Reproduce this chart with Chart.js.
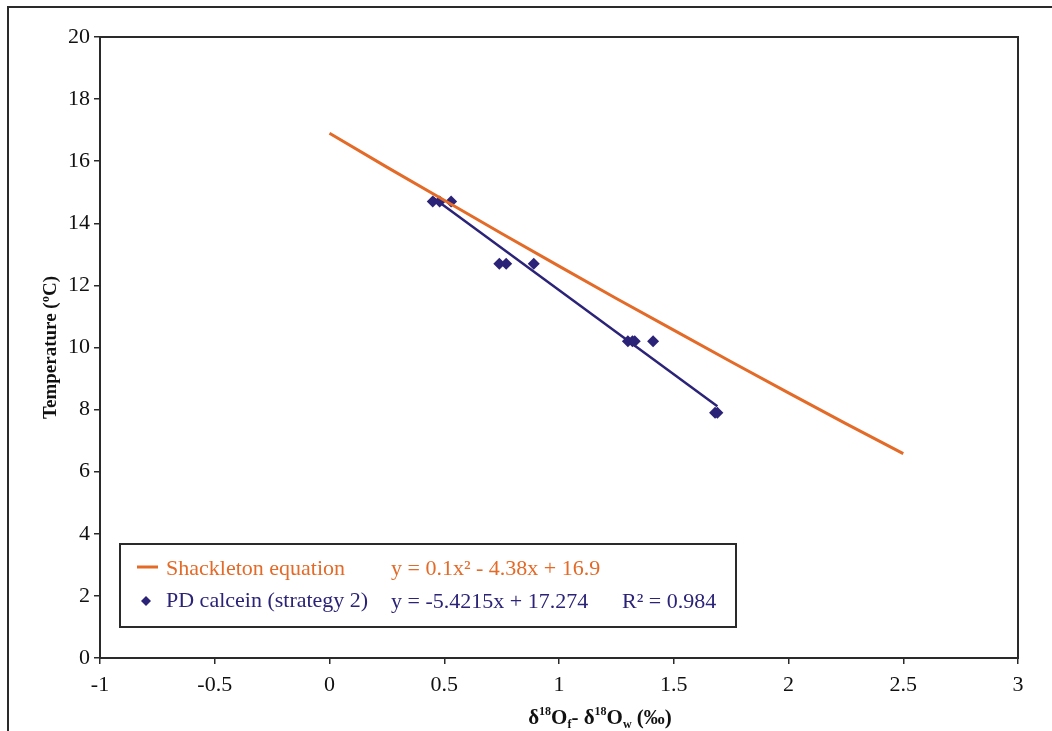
<!DOCTYPE html>
<html>
<head>
<meta charset="utf-8">
<script src="https://cdn.jsdelivr.net/npm/chart.js@4.4.1/dist/chart.umd.min.js"></script>
<style>
  html, body { margin: 0; padding: 0; background: #fff; }
</style>
</head>
<body>
<canvas id="chart" width="1052" height="731"></canvas>
<script>
// Shackleton equation curve
const shackX = [0, 0.25, 0.5, 0.75, 1, 1.25, 1.5, 1.75, 2, 2.25, 2.5];
const shackY = [16.9, 15.81, 14.74, 13.67, 12.62, 11.58, 10.56, 9.54, 8.54, 7.55, 6.58];

// PD calcein (strategy 2) measurements
const calceinX = [0.45, 0.48, 0.53, 0.74, 0.77, 0.89, 1.30, 1.32, 1.33, 1.41, 1.68, 1.69];
const calceinY = [14.7, 14.7, 14.7, 12.7, 12.7, 12.7, 10.2, 10.2, 10.2, 10.2, 7.9, 7.9];

// linear trendline end points
const trendX = [0.45, 1.69];
const trendY = [14.83, 8.11];

const shackEq = 'y = 0.1x² - 4.38x + 16.9';
const calceinEq = 'y = -5.4215x + 17.274';
const calceinR2 = 'R² = 0.984';

const ORANGE = '#E36A27';
const NAVY = '#2B2377';
const INK = '#2a2a2a';
const SERIF = '"Liberation Serif", "Times New Roman", serif';

const toPts = (xs, ys) => xs.map((x, i) => ({ x: x, y: ys[i] }));

// frame, legend box and x axis title drawn by hand
const decor = {
  id: 'decor',
  beforeDraw(chart) {
    const ctx = chart.ctx;
    ctx.save();
    ctx.fillStyle = '#fff';
    ctx.fillRect(0, 0, chart.width, chart.height);
    ctx.strokeStyle = INK;
    ctx.lineWidth = 2;
    ctx.strokeRect(8, 7, chart.width + 20, chart.height + 20);
    ctx.restore();
  },
  beforeDatasetsDraw(chart) {
    const a = chart.chartArea;
    const ctx = chart.ctx;
    ctx.save();
    ctx.strokeStyle = INK;
    ctx.lineWidth = 2;
    ctx.strokeRect(a.left, a.top, a.right - a.left, a.bottom - a.top);
    ctx.restore();
  },
  afterDraw(chart) {
    const ctx = chart.ctx;
    ctx.save();

    // legend box
    ctx.strokeStyle = INK;
    ctx.lineWidth = 2;
    ctx.strokeRect(120, 544, 616, 83);

    ctx.font = '22px ' + SERIF;
    ctx.textBaseline = 'alphabetic';
    ctx.textAlign = 'left';

    // row 1: Shackleton
    ctx.strokeStyle = ORANGE;
    ctx.lineWidth = 3;
    ctx.beginPath();
    ctx.moveTo(137, 567);
    ctx.lineTo(158, 567);
    ctx.stroke();
    ctx.fillStyle = ORANGE;
    ctx.fillText(chart.data.datasets[0].label, 166, 575);
    ctx.fillText(shackEq, 391, 575);

    // row 2: PD calcein
    ctx.fillStyle = NAVY;
    ctx.beginPath();
    ctx.moveTo(146, 596);
    ctx.lineTo(151, 601);
    ctx.lineTo(146, 606);
    ctx.lineTo(141, 601);
    ctx.closePath();
    ctx.fill();
    ctx.fillText(chart.data.datasets[1].label, 166, 607);
    ctx.fillText(calceinEq, 391, 608);
    ctx.fillText(calceinR2, 622, 608);

    // x axis title with super/subscripts
    const big = 'bold 21px ' + SERIF;
    const small = 'bold 12px ' + SERIF;
    const parts = [
      [big, 'δ', 0], [small, '18', -9], [big, 'O', 0], [small, 'f', 4],
      [big, '- δ', 0], [small, '18', -9], [big, 'O', 0], [small, 'w', 4],
      [big, ' (‰)', 0]
    ];
    let total = 0;
    parts.forEach(p => { ctx.font = p[0]; total += ctx.measureText(p[1]).width; });
    let x = 600 - total / 2;
    ctx.fillStyle = '#111';
    parts.forEach(p => {
      ctx.font = p[0];
      ctx.fillText(p[1], x, 724 + p[2]);
      x += ctx.measureText(p[1]).width;
    });
    ctx.restore();
  }
};

const ctx = document.getElementById('chart').getContext('2d');
new Chart(ctx, {
  type: 'scatter',
  data: {
    datasets: [
      {
        label: 'Shackleton equation',
        data: toPts(shackX, shackY),
        showLine: true,
        borderColor: ORANGE,
        borderWidth: 3,
        pointRadius: 0,
        tension: 0
      },
      {
        label: 'PD calcein (strategy 2)',
        data: toPts(calceinX, calceinY),
        showLine: false,
        pointStyle: 'rectRot',
        pointRadius: 6,
        backgroundColor: NAVY,
        borderColor: NAVY,
        borderWidth: 0
      },
      {
        label: 'trend',
        data: toPts(trendX, trendY),
        showLine: true,
        borderColor: NAVY,
        borderWidth: 2.5,
        pointRadius: 0
      }
    ]
  },
  options: {
    responsive: false,
    animation: false,
    layout: { padding: { left: 0, top: 37, right: 34, bottom: 0 } },
    plugins: {
      legend: { display: false },
      tooltip: { enabled: false }
    },
    scales: {
      x: {
        type: 'linear',
        min: -1,
        max: 3,
        afterFit: s => { s.height = 73; },
        ticks: {
          stepSize: 0.5,
          color: '#111',
          padding: 8,
          maxRotation: 0,
          font: { family: SERIF, size: 22 },
          callback: v => String(Number(v.toFixed(1)))
        },
        grid: {
          drawOnChartArea: false,
          drawTicks: true,
          tickLength: 6,
          color: INK,
          lineWidth: 1.5
        },
        border: { display: true, color: INK, width: 2 }
      },
      y: {
        min: 0,
        max: 20,
        afterFit: s => { s.width = 100; },
        ticks: {
          stepSize: 2,
          color: '#111',
          padding: 4,
          font: { family: SERIF, size: 22 }
        },
        grid: {
          drawOnChartArea: false,
          drawTicks: true,
          tickLength: 6,
          color: INK,
          lineWidth: 1.5
        },
        border: { display: true, color: INK, width: 2 },
        title: {
          display: true,
          text: 'Temperature (ºC)',
          color: '#111',
          padding: { top: 40, bottom: 0 },
          font: { family: SERIF, size: 19, weight: 'bold' }
        }
      }
    }
  },
  plugins: [decor]
});
</script>
</body>
</html>
